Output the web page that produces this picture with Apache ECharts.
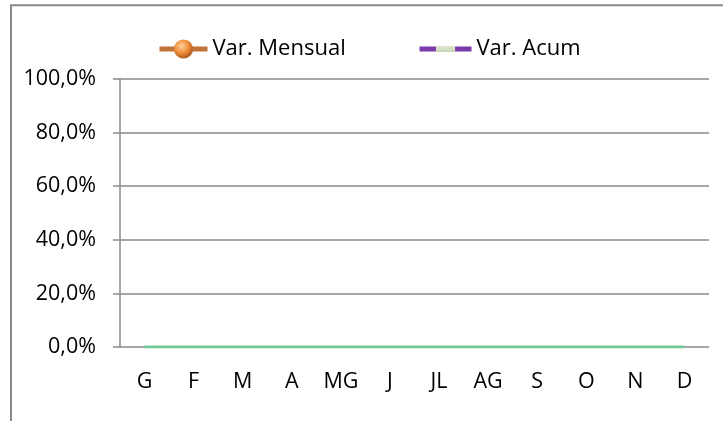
<!DOCTYPE html>
<html>
<head>
<meta charset="utf-8">
<script src="https://cdn.jsdelivr.net/npm/echarts@6/dist/echarts.min.js"></script>
<style>
  html, body { margin: 0; padding: 0; background: #fff; }
  #chart { width: 723px; height: 421px; }
</style>
</head>
<body>
<div id="chart"></div>
<script>
  // dades
  var months = ['G', 'F', 'M', 'A', 'MG', 'J', 'JL', 'AG', 'S', 'O', 'N', 'D'];
  var varMensual = [null, null, null, null, null, null, null, null, null, null, null, null];
  var varAcum = [null, null, null, null, null, null, null, null, null, null, null, null];
  var baseLine = [0, 0, 0, 0, 0, 0, 0, 0, 0, 0, 0, 0];
  var yMin = 0, yMax = 100, yStep = 20;

  var font = 'Open Sans';
  var gridColor = '#8a8a8a';

  var chart = echarts.init(document.getElementById('chart'));

  var legendText = { fontFamily: font, fontSize: 22, color: '#000' };

  chart.setOption({
    animation: false,
    graphic: [{
      type: 'rect',
      shape: { x: 11, y: 5.3, width: 800, height: 500 },
      style: { fill: 'none', stroke: gridColor, lineWidth: 2 },
      silent: true
    }],
    legend: [{
      data: ['Var. Mensual'],
      left: 157,
      top: 38,
      padding: 0,
      itemWidth: 48,
      itemHeight: 24,
      lineStyle: { width: 5 },
      textStyle: legendText
    }, {
      data: ['Var. Acum'],
      left: 417,
      top: 38,
      padding: 0,
      itemWidth: 52,
      itemHeight: 24,
      lineStyle: { width: 5 },
      textStyle: legendText
    }],
    grid: {
      left: 120,
      right: 14,
      top: 79,
      bottom: 74
    },
    xAxis: {
      type: 'category',
      data: months,
      boundaryGap: true,
      axisLine: { show: false },
      axisTick: { show: false },
      axisLabel: {
        fontFamily: font,
        fontSize: 21.5,
        color: '#000',
        margin: 24
      }
    },
    yAxis: {
      type: 'value',
      min: yMin,
      max: yMax,
      interval: yStep,
      axisLine: { show: true, lineStyle: { color: gridColor, width: 1.5 } },
      axisTick: { show: true, inside: false, length: 7, lineStyle: { color: gridColor, width: 1.5 } },
      splitLine: { show: true, lineStyle: { color: gridColor, width: 1.5 } },
      axisLabel: {
        fontFamily: font,
        fontSize: 21.5,
        color: '#000',
        margin: 24,
        formatter: function (v) {
          return v.toFixed(1).replace('.', ',') + '%';
        }
      }
    },
    series: [{
      name: 'Var. Mensual',
      type: 'line',
      data: varMensual,
      symbol: 'circle',
      lineStyle: { color: '#c0733a', width: 5 },
      itemStyle: {
        color: {
          type: 'radial', x: 0.4, y: 0.35, r: 0.7,
          colorStops: [
            { offset: 0, color: '#fdd2a0' },
            { offset: 0.5, color: '#ef8f3a' },
            { offset: 1, color: '#a3521a' }
          ]
        }
      }
    }, {
      name: 'Var. Acum',
      type: 'line',
      data: varAcum,
      // strip marker inside a square box (tiny corner dots keep the box square)
      symbol: 'path://M0,7h20v6h-20z M0,0h0.05v0.05h-0.05z M19.95,19.95h0.05v0.05h-0.05z',
      lineStyle: { color: '#7a3aa8', width: 5 },
      itemStyle: {
        color: {
          type: 'linear', x: 0, y: 0, x2: 0, y2: 1,
          colorStops: [
            { offset: 0, color: '#eef2e6' },
            { offset: 0.5, color: '#d6e0c4' },
            { offset: 1, color: '#a9b596' }
          ]
        }
      }
    }, {
      name: 'base',
      type: 'line',
      data: baseLine,
      symbol: 'none',
      z: 3,
      lineStyle: { color: '#72c896', width: 3 }
    }]
  });
</script>
</body>
</html>
